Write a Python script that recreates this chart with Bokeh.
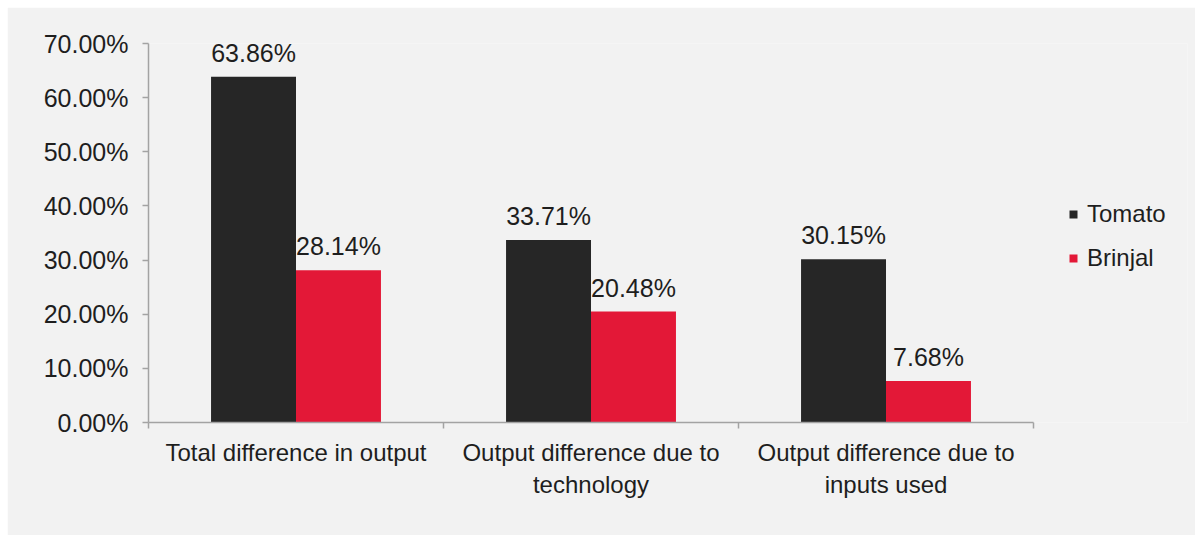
from bokeh.plotting import figure
from bokeh.models import (ColumnDataSource, Range1d, FixedTicker, Legend, LegendItem,
                          PrintfTickFormatter)
from bokeh.transform import dodge
from bokeh.core.properties import value
from bokeh.embed import file_html
from bokeh.resources import INLINE

categories = ["Total difference in output", "Output difference due to\ntechnology",
              "Output difference due to\ninputs used"]
tomato = [63.86, 33.71, 30.15]
brinjal = [28.14, 20.48, 7.68]
series_names = ["Tomato", "Brinjal"]
y_ticks = [0, 10, 20, 30, 40, 50, 60, 70]

FONT = "Liberation Sans"
TXT = "#1e1e1e"
AX = "#a3a3a3"
BG = "#f2f2f2"
C_TOM = "#262626"
C_BRI = "#e31837"

n = len(categories)
centers = [i + 0.5 for i in range(n)]
src = ColumnDataSource(dict(
    x=centers,
    tomato=tomato,
    brinjal=brinjal,
    tlab=[f"{v:.2f}%" for v in tomato],
    blab=[f"{v:.2f}%" for v in brinjal],
))

# frame extends to the right to leave room for the legend; the axis is bounded to the categories
p = figure(width=1188, height=528, output_backend="svg", toolbar_location=None,
           x_range=Range1d(0, n + 0.522), y_range=Range1d(0, 70),
           min_border_left=141, min_border_right=8, min_border_top=36,
           min_border_bottom=113)
p.margin = (7, 0, 0, 7)
p.background_fill_color = BG
p.border_fill_color = BG
p.outline_line_color = None
p.xgrid.visible = False
p.ygrid.visible = False

bw = 0.288
r1 = p.vbar(x=dodge("x", -bw / 2, range=p.x_range), top="tomato", width=bw,
            source=src, fill_color=C_TOM, line_color=None)
r2 = p.vbar(x=dodge("x", bw / 2, range=p.x_range), top="brinjal", width=bw,
            source=src, fill_color=C_BRI, line_color=None)

p.text(x=dodge("x", -bw / 2, range=p.x_range), y="tomato", text="tlab", source=src,
       text_align="center", text_baseline="bottom", y_offset=-10,
       text_font=value(FONT), text_font_size="25px", text_color=TXT)
p.text(x=dodge("x", bw / 2, range=p.x_range), y="brinjal", text="blab", source=src,
       text_align="center", text_baseline="bottom", y_offset=-10,
       text_font=value(FONT), text_font_size="25px", text_color=TXT)

# x axis
xa = p.xaxis[0]
xa.bounds = (0, n)
xa.ticker = FixedTicker(ticks=centers, minor_ticks=list(range(n + 1)))
xa.major_label_overrides = {c: lab for c, lab in zip(centers, categories)}
xa.major_tick_line_color = None
xa.minor_tick_line_color = AX
xa.minor_tick_line_width = 1.5
xa.minor_tick_in = 0
xa.minor_tick_out = 6
xa.axis_line_color = AX
xa.axis_line_width = 1.5
xa.major_label_text_font = FONT
xa.major_label_text_font_size = "24px"
xa.major_label_text_color = TXT
xa.major_label_standoff = 10

# y axis
ya = p.yaxis[0]
ya.ticker = FixedTicker(ticks=y_ticks, minor_ticks=[])
ya.formatter = PrintfTickFormatter(format="%.2f%%")
ya.major_tick_line_color = AX
ya.major_tick_line_width = 1.5
ya.major_tick_in = 0
ya.major_tick_out = 6
ya.axis_line_color = AX
ya.axis_line_width = 1.5
ya.major_label_text_font = FONT
ya.major_label_text_font_size = "25px"
ya.major_label_text_color = TXT
ya.major_label_standoff = 14

legend = Legend(items=[LegendItem(label=series_names[0], renderers=[r1]),
                       LegendItem(label=series_names[1], renderers=[r2])],
                location=(920, 150), orientation="vertical")
legend.background_fill_alpha = 0
legend.border_line_color = None
legend.padding = 0
legend.margin = 0
legend.glyph_width = 10
legend.glyph_height = 10
legend.label_standoff = 9
legend.label_height = 22
legend.spacing = 16
legend.label_text_font = FONT
legend.label_text_font_size = "24px"
legend.label_text_color = TXT
p.add_layout(legend, "center")

open("out.html", "w").write(file_html(p, INLINE))
